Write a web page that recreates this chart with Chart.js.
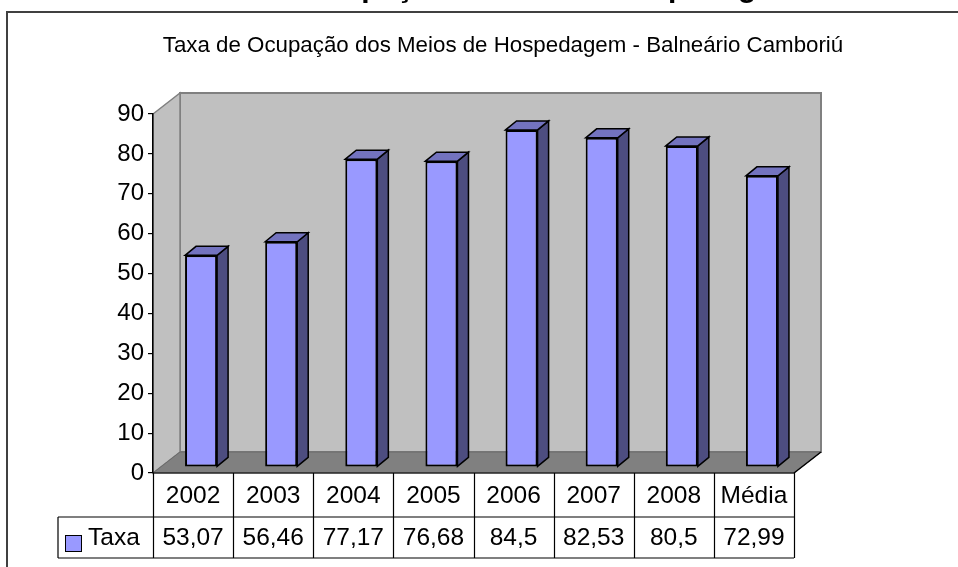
<!DOCTYPE html>
<html>
<head>
<meta charset="utf-8">
<script src="https://cdn.jsdelivr.net/npm/chart.js@4.4.1/dist/chart.umd.min.js"></script>
<style>
  html, body { margin: 0; padding: 0; background: #fff; }
  #wrap { width: 958px; height: 567px; }
</style>
</head>
<body>
<div id="wrap"><canvas id="chart" width="958" height="567"></canvas></div>
<script>
const categories = ['2002', '2003', '2004', '2005', '2006', '2007', '2008', 'Média'];
const taxaValues = [53.07, 56.46, 77.17, 76.68, 84.5, 82.53, 80.5, 72.99];
const seriesName = 'Taxa';
const yMin = 0;
const yMax = 90;
const yStep = 10;
const chartTitle = 'Taxa de Ocupação dos Meios de Hospedagem - Balneário Camboriú';
const pageTitle = 'Taxa de Ocupação - Meios de Hospedagem';

const FONT = '"Liberation Sans", Arial, sans-serif';

// 3d look: wall depth, where the bars stand, and how deep they are
const wall = { dx: 27, dy: -21 };
const barShift = { dx: 8, dy: -6 };
const barDepth = { dx: 11, dy: -9 };

function poly(ctx, pts, fill, stroke, lw) {
  ctx.beginPath();
  ctx.moveTo(pts[0][0], pts[0][1]);
  for (let i = 1; i < pts.length; i++) ctx.lineTo(pts[i][0], pts[i][1]);
  ctx.closePath();
  if (fill) { ctx.fillStyle = fill; ctx.fill(); }
  if (stroke) { ctx.strokeStyle = stroke; ctx.lineWidth = lw || 1; ctx.stroke(); }
}

const excelLook = {
  id: 'excelLook',
  beforeDraw(chart) {
    const ctx = chart.ctx;
    const a = chart.chartArea;
    ctx.save();
    ctx.fillStyle = '#fff';
    ctx.fillRect(0, 0, chart.width, chart.height);

    // clipped sheet title above the frame
    ctx.fillStyle = '#000';
    ctx.font = 'bold 30px ' + FONT;
    ctx.textBaseline = 'alphabetic';
    ctx.textAlign = 'left';
    ctx.fillText(pageTitle, 185, -3);

    // outer frame
    ctx.strokeStyle = '#404040';
    ctx.lineWidth = 2;
    ctx.beginPath();
    ctx.moveTo(7, 600);
    ctx.lineTo(7, 12);
    ctx.lineTo(980, 12);
    ctx.stroke();

    // chart title
    ctx.font = '22.3px ' + FONT;
    ctx.textAlign = 'center';
    ctx.fillText(chartTitle, 503, 52);

    // walls
    const L = a.left, R = a.right, T = a.top, B = a.bottom;
    poly(ctx, [[L + wall.dx, T + wall.dy], [R + wall.dx, T + wall.dy], [R + wall.dx, B + wall.dy], [L + wall.dx, B + wall.dy]], '#c0c0c0', '#808080', 2);
    poly(ctx, [[L, T], [L + wall.dx, T + wall.dy], [L + wall.dx, B + wall.dy], [L, B]], '#c0c0c0', '#808080', 1.5);
    poly(ctx, [[L, B], [L + wall.dx, B + wall.dy], [R + wall.dx, B + wall.dy], [R, B]], '#808080', '#6a6a6a', 1);
    ctx.strokeStyle = '#000';
    ctx.lineWidth = 1.5;
    ctx.beginPath();
    ctx.moveTo(R, B);
    ctx.lineTo(R + wall.dx, B + wall.dy);
    ctx.stroke();
    ctx.restore();
  },
  beforeDatasetsDraw(chart) {
    const ctx = chart.ctx;
    ctx.save();
    ctx.translate(barShift.dx, barShift.dy);
    const meta = chart.getDatasetMeta(0);
    meta.data.forEach((bar) => {
      const p = bar.getProps(['x', 'y', 'base', 'width'], true);
      const l = p.x - p.width / 2, r = p.x + p.width / 2;
      poly(ctx, [[r, p.y], [r + barDepth.dx, p.y + barDepth.dy], [r + barDepth.dx, p.base + barDepth.dy], [r, p.base]], '#4d4d80', '#000', 1.5);
      poly(ctx, [[l, p.y], [l + barDepth.dx, p.y + barDepth.dy], [r + barDepth.dx, p.y + barDepth.dy], [r, p.y]], '#7373bf', '#000', 1.5);
    });
  },
  afterDatasetsDraw(chart) {
    chart.ctx.restore();
  },
  afterDraw(chart) {
    const ctx = chart.ctx;
    const a = chart.chartArea;
    const xs = chart.scales.x;
    const colW = (a.right - a.left) / categories.length;
    const row1 = a.bottom, row2 = a.bottom + 44, row3 = a.bottom + 85;
    const legL = 58;
    ctx.save();
    ctx.strokeStyle = '#000';
    ctx.lineWidth = 1.2;
    ctx.beginPath();
    ctx.moveTo(a.left, row1); ctx.lineTo(a.right, row1);
    ctx.moveTo(legL, row2); ctx.lineTo(a.right, row2);
    ctx.moveTo(legL, row3); ctx.lineTo(a.right, row3);
    ctx.moveTo(legL, row2); ctx.lineTo(legL, row3);
    for (let i = 0; i <= categories.length; i++) {
      const x = Math.round(a.left + i * colW) + 0.5;
      ctx.moveTo(x, row1); ctx.lineTo(x, row3);
    }
    ctx.stroke();

    ctx.fillStyle = '#000';
    ctx.font = '24.5px ' + FONT;
    ctx.textAlign = 'center';
    ctx.textBaseline = 'middle';
    categories.forEach((c, i) => {
      const cx = xs.getPixelForValue(i);
      ctx.fillText(c, cx, (row1 + row2) / 2 + 1);
      ctx.fillText(String(taxaValues[i]).replace('.', ','), cx, (row2 + row3) / 2 + 1);
    });

    // legend key
    ctx.fillStyle = '#9999ff';
    ctx.fillRect(65, 535, 16, 16);
    ctx.lineWidth = 1;
    ctx.strokeRect(65.5, 535.5, 16, 16);
    ctx.fillStyle = '#000';
    ctx.textAlign = 'left';
    ctx.fillText(seriesName, 88, (row2 + row3) / 2 + 1);
    ctx.restore();
  }
};

new Chart(document.getElementById('chart'), {
  type: 'bar',
  data: {
    labels: categories,
    datasets: [{
      label: seriesName,
      data: taxaValues,
      backgroundColor: '#9999ff',
      borderColor: '#000',
      borderWidth: 2,
      borderSkipped: false,
      categoryPercentage: 1,
      barPercentage: 0.4,
    }],
  },
  options: {
    responsive: false,
    devicePixelRatio: 1,
    animation: false,
    layout: { padding: { left: 0, top: 114, right: 164, bottom: 94 } },
    plugins: {
      legend: { display: false },
      tooltip: { enabled: false },
      title: { display: false },
    },
    scales: {
      x: { display: false },
      y: {
        min: yMin,
        max: yMax,
        afterFit: (scale) => { scale.width = 153; },
        ticks: {
          stepSize: yStep,
          color: '#000',
          padding: 4,
          font: { family: FONT, size: 24 },
        },
        grid: {
          drawOnChartArea: false,
          drawTicks: true,
          tickLength: 5,
          color: '#000',
          lineWidth: 1.2,
        },
        border: { display: true, color: '#000', width: 1.5 },
      },
    },
  },
  plugins: [excelLook],
});
</script>
</body>
</html>
